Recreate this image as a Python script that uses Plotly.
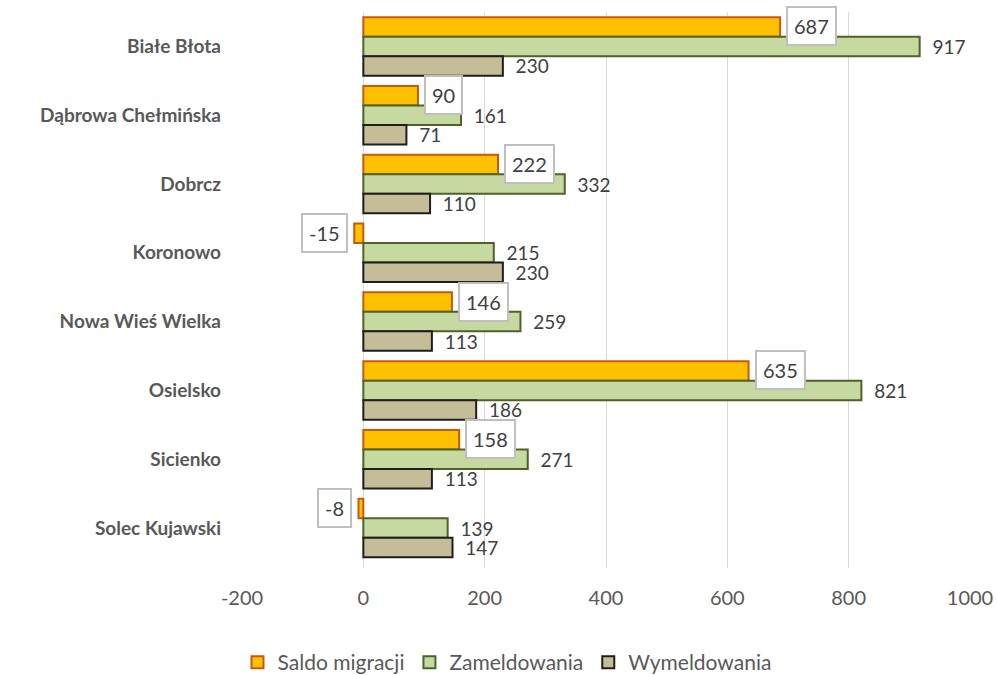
import plotly.graph_objects as go

categories = ["Białe Błota", "Dąbrowa Chełmińska", "Dobrcz", "Koronowo",
              "Nowa Wieś Wielka", "Osielsko", "Sicienko", "Solec Kujawski"]
saldo = [687, 90, 222, -15, 146, 635, 158, -8]
zameld = [917, 161, 332, 215, 259, 821, 271, 139]
wymeld = [230, 71, 110, 230, 113, 186, 113, 147]
tick_vals = [-200, 0, 200, 400, 600, 800, 1000]
tick_text = ["-200", "0", "200", "400", "600", "800", "1000"]

FONT = "Lato"
TXT = "#404040"
LBL = dict(size=19, color=TXT, family=FONT)

fig = go.Figure()
fig.add_trace(go.Bar(y=categories, x=saldo, orientation="h", name="Saldo migracji",
                     marker=dict(color="#FFC000", line=dict(color="#C55A11", width=2))))
fig.add_trace(go.Bar(y=categories, x=zameld, orientation="h", name="Zameldowania",
                     marker=dict(color="#C5D9A0", line=dict(color="#4F6228", width=2)),
                     texttemplate="  %{x}", textposition="outside", cliponaxis=False,
                     constraintext="none", textfont=LBL))
fig.add_trace(go.Bar(y=categories, x=wymeld, orientation="h", name="Wymeldowania",
                     marker=dict(color="#C4BD97", line=dict(color="#1E1E1E", width=2)),
                     texttemplate="  %{x}", textposition="outside", cliponaxis=False,
                     constraintext="none", textfont=LBL))

for c, v in zip(categories, saldo):
    fig.add_annotation(x=v, y=c, text=str(v), showarrow=False,
                       xanchor="left" if v >= 0 else "right",
                       xshift=6 if v >= 0 else -6, yshift=20,
                       font=dict(size=20, color=TXT, family=FONT),
                       bgcolor="white", bordercolor="#BFBFBF", borderwidth=2,
                       borderpad=6)

fig.update_layout(
    width=997, height=675,
    margin=dict(l=242, r=27, t=12, b=107, autoexpand=False),
    paper_bgcolor="white", plot_bgcolor="white",
    barmode="group", bargap=0.15, bargroupgap=0,
    font=dict(family=FONT, color="#595959"),
    showlegend=True,
    legend=dict(orientation="h", x=0.364, xanchor="center", y=-0.17, yanchor="middle",
                font=dict(size=21, color="#595959", family=FONT),
                itemwidth=30, tracegroupgap=0),
    xaxis=dict(range=[-200, 1000], tickvals=tick_vals, ticktext=tick_text,
               showgrid=True, gridcolor="#D9D9D9", gridwidth=1, zeroline=True,
               zerolinecolor="#D9D9D9", zerolinewidth=1, automargin=False,
               tickfont=dict(size=20, color="#595959", family=FONT),
               ticks="", ticklabelstandoff=16),
    yaxis=dict(autorange="reversed", showgrid=False, ticks="", automargin=False,
               tickfont=dict(size=19, color="#595959", family=FONT),
               tickprefix="<b>", ticksuffix="</b>", ticklabelstandoff=20),
)

fig.write_html("out.html", config={"displayModeBar": False},
               post_script="document.body.style.margin='0';document.body.style.overflow='hidden';")
